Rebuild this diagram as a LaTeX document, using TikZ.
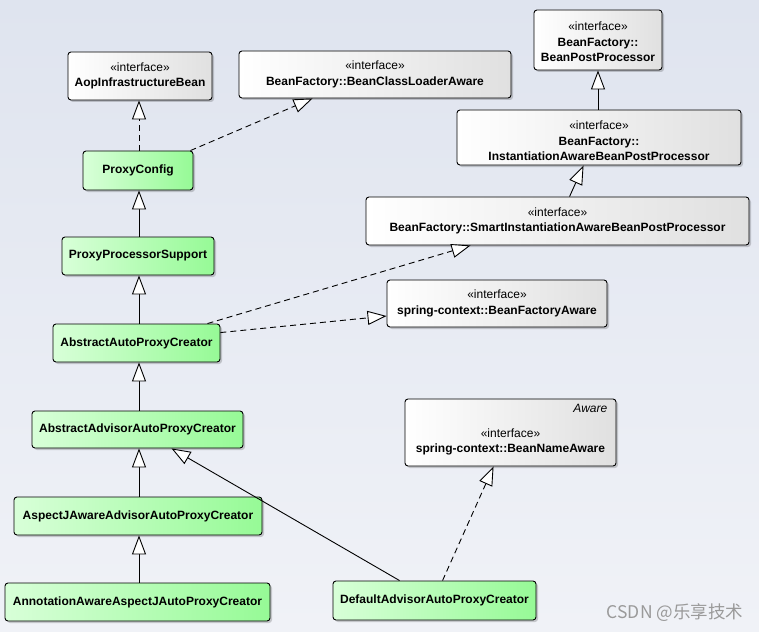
\documentclass[tikz,border=0pt]{standalone}
\usepackage{fontspec}
\setmainfont{Liberation Sans}
\newfontfamily\cjkfont{Noto Sans CJK SC}
\usetikzlibrary{arrows.meta,shadows,calc}
\definecolor{bgtop}{HTML}{DFE4EF}
\definecolor{bgbot}{HTML}{F0F2F7}
\definecolor{grL}{HTML}{D8FFD8}
\definecolor{grR}{HTML}{96FA96}
\definecolor{wtR}{HTML}{E0E0E0}
\definecolor{wmark}{HTML}{9A9A9A}
\begin{document}
\begin{tikzpicture}[x=1pt,y=-1pt,
  box/.style={draw=black, line width=0.9pt, rounded corners=3pt, align=center, inner sep=0pt,
    font=\fontsize{12}{15.5}\selectfont,
    drop shadow={shadow xshift=2pt, shadow yshift=-2pt, fill=black, opacity=0.18}},
  cls/.style={box, left color=grL, right color=grR, font=\fontsize{12}{15.5}\selectfont\bfseries},
  ifc/.style={box, left color=white, right color=wtR},
  gen/.style={line width=0.9pt, -{Triangle[length=19pt,width=14pt,fill=white]}},
  real/.style={gen, dash pattern=on 6pt off 4pt},
  txt/.style={inner sep=0pt, align=center, font=\fontsize{12}{15.5}\selectfont}]
\useasboundingbox (0,0) rectangle (759,631);
\shade[top color=bgtop, bottom color=bgbot] (0,0) rectangle (759,631);

% interfaces
\node[ifc, minimum width=144pt, minimum height=48pt] (aop) at (140,76)
  {«interface»\\\textbf{AopInfrastructureBean}};
\node[ifc, minimum width=272pt, minimum height=47pt] (bcl) at (375,74.5)
  {«interface»\\\textbf{BeanFactory::BeanClassLoaderAware}};
\node[ifc, minimum width=128pt, minimum height=60pt] (bpp) at (598,40) {};
\node[txt] (bpptxt) at ($(bpp.center)+(0,2)$)
  {«interface»\\\textbf{BeanFactory::}\\\textbf{BeanPostProcessor}};
\node[ifc, minimum width=284pt, minimum height=55pt] (iabpp) at (599,137.5) {};
\node[txt] (iabpptxt) at ($(iabpp.center)+(0,3.5)$)
  {«interface»\\\textbf{BeanFactory::}\\\textbf{InstantiationAwareBeanPostProcessor}};
\node[ifc, minimum width=383pt, minimum height=48pt] (siabpp) at (557.5,221)
  {«interface»\\\textbf{BeanFactory::SmartInstantiationAwareBeanPostProcessor}};
\node[ifc, minimum width=220pt, minimum height=47pt] (bfa) at (497,303.5)
  {«interface»\\\textbf{spring-context::BeanFactoryAware}};
\node[ifc, minimum width=211pt, minimum height=67pt] (bna) at (510.5,432.5) {};
\node[txt] (bnatxt) at ($(bna.center)+(0,9.5)$)
  {«interface»\\\textbf{spring-context::BeanNameAware}};
\node[txt, anchor=north east, font=\fontsize{12}{14}\selectfont\itshape] (bnastereo)
  at ($(bna.north east)+(-9,5)$) {Aware};

% classes
\node[cls, minimum width=110pt, minimum height=39pt] (pc) at (138,170.5) {ProxyConfig};
\node[cls, minimum width=152pt, minimum height=38pt] (pps) at (138,256) {ProxyProcessorSupport};
\node[cls, minimum width=167pt, minimum height=38pt] (aapc) at (136.5,343) {AbstractAutoProxyCreator};
\node[cls, minimum width=211pt, minimum height=37pt] (aaapc) at (137.5,429.5) {AbstractAdvisorAutoProxyCreator};
\node[cls, minimum width=248pt, minimum height=38pt] (ajaapc) at (138,516) {AspectJAwareAdvisorAutoProxyCreator};
\node[cls, minimum width=265pt, minimum height=38pt] (anno) at (137.5,602) {AnnotationAwareAspectJAutoProxyCreator};
\node[cls, minimum width=203pt, minimum height=39pt] (daapc) at (434.5,600.5) {DefaultAdvisorAutoProxyCreator};

% generalizations
\draw[gen] (pps.north -| 139,0) -- (pc.south -| 139,0);
\draw[gen] (aapc.north -| 139,0) -- (pps.south -| 139,0);
\draw[gen] (aaapc.north -| 139,0) -- (aapc.south -| 139,0);
\draw[gen] (ajaapc.north -| 139,0) -- (aaapc.south -| 139,0);
\draw[gen] (anno.north -| 139,0) -- (ajaapc.south -| 139,0);
\draw[gen] (iabpp.north -| bpp.south) -- (bpp.south);
\draw[gen] ($(siabpp.north west)+(204,0)$) -- ($(iabpp.south west)+(127,0)$);
\draw[gen] ($(daapc.north west)+(67,0)$) -- ($(aaapc.south west)+(140,0)$);

% realizations
\draw[real] (pc.north -| 139,0) -- (aop.south -| 139,0);
\draw[real] ($(pc.north east)+(-3,0)$) -- ($(bcl.south west)+(74,0)$);
\draw[real] ($(aapc.north east)+(-13,0)$) -- ($(siabpp.south west)+(105,0)$);
\draw[real] ($(aapc.north east)+(0,9)$) -- ($(bfa.west)+(0,12.5)$);
\draw[real] ($(daapc.north west)+(110,0)$) -- ($(bna.south west)+(89,0)$);

% watermark
\node[inner sep=0pt, text=wmark, font=\cjkfont\fontsize{17.5}{20}\selectfont] (wm) at (675,613) {CSDN @乐享技术};
\end{tikzpicture}
\end{document}
